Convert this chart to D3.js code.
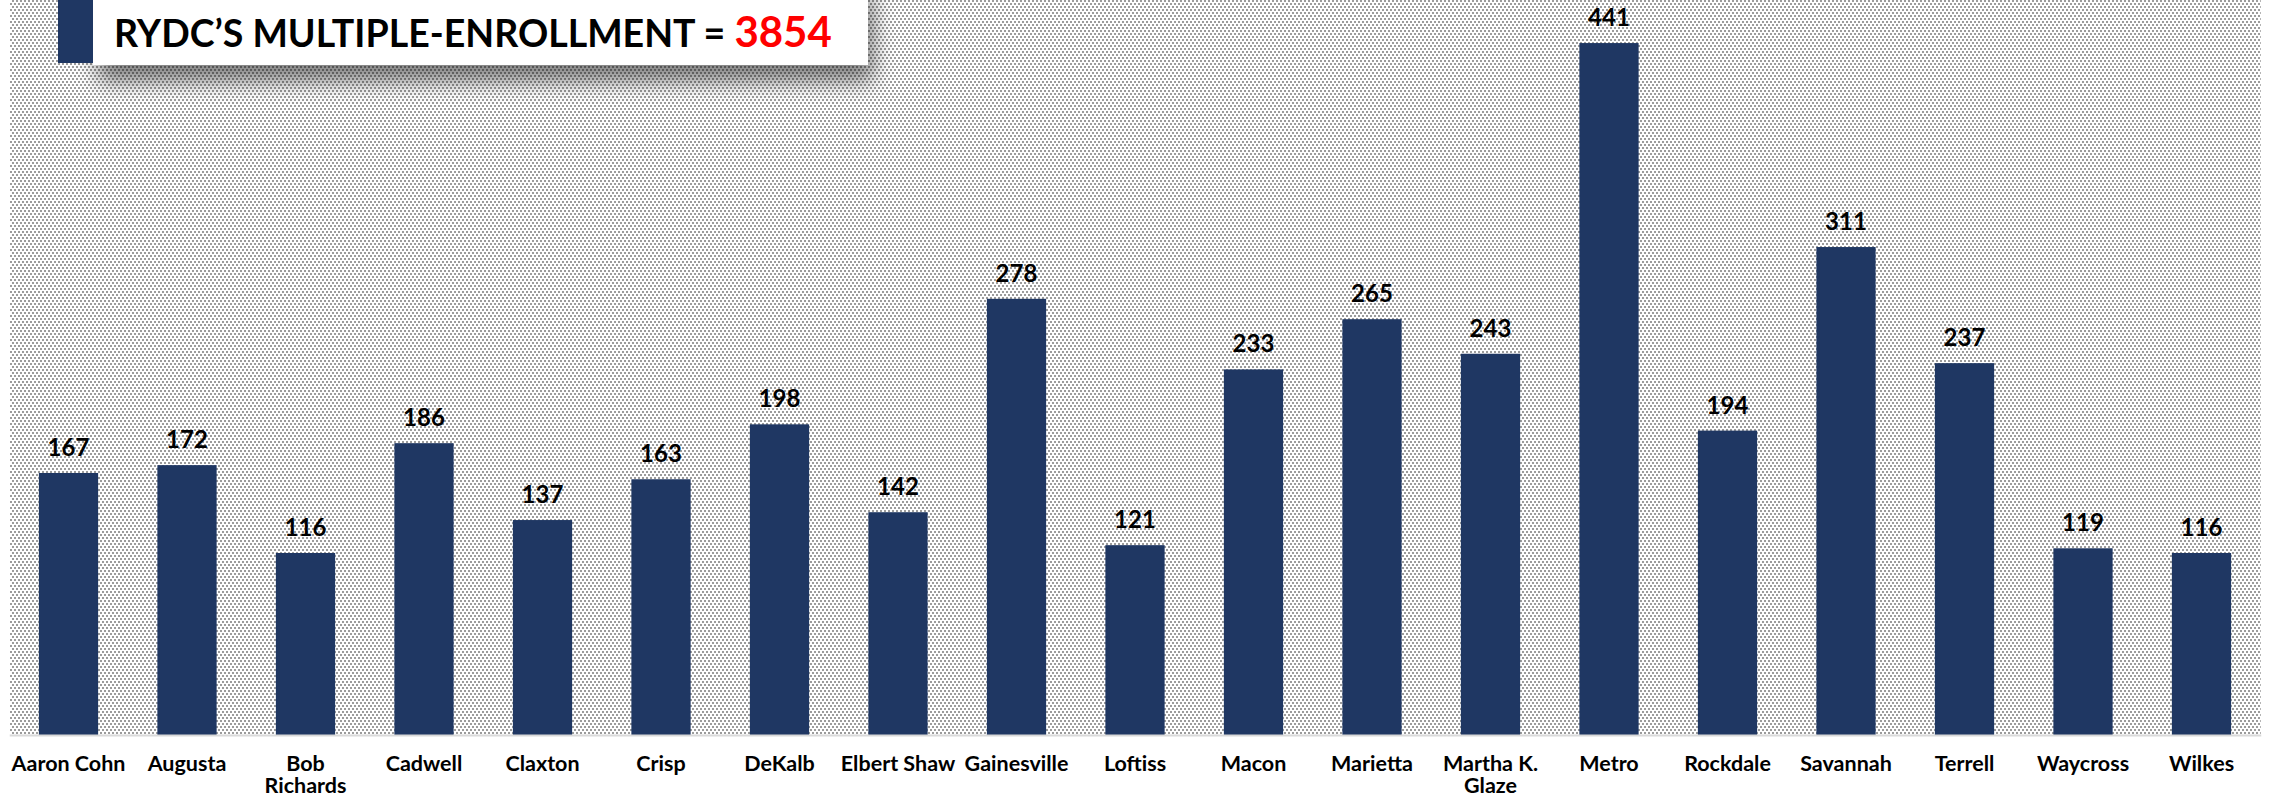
<!DOCTYPE html>
<html>
<head>
<meta charset="utf-8">
<script src="https://cdn.jsdelivr.net/npm/d3@7"></script>
<style>
  html, body { margin: 0; padding: 0; background: #ffffff; }
  svg { display: block; }
</style>
</head>
<body>
<svg id="chart" width="2269" height="799"></svg>
<script>
// ---- data ----
const categories = ["Aaron Cohn", "Augusta", "Bob Richards", "Cadwell", "Claxton", "Crisp", "DeKalb",
  "Elbert Shaw", "Gainesville", "Loftiss", "Macon", "Marietta", "Martha K. Glaze", "Metro",
  "Rockdale", "Savannah", "Terrell", "Waycross", "Wilkes"];
const values = [167, 172, 116, 186, 137, 163, 198, 142, 278, 121, 233, 265, 243, 441, 194, 311, 237, 119, 116];
const tickLabels = [["Aaron Cohn"], ["Augusta"], ["Bob", "Richards"], ["Cadwell"], ["Claxton"], ["Crisp"], ["DeKalb"],
  ["Elbert Shaw"], ["Gainesville"], ["Loftiss"], ["Macon"], ["Marietta"], ["Martha K.", "Glaze"], ["Metro"],
  ["Rockdale"], ["Savannah"], ["Terrell"], ["Waycross"], ["Wilkes"]];
const titleText = "RYDC\u2019S MULTIPLE-ENROLLMENT = ";
const titleTotal = "3854";
const yDomain = [0, 500];

// ---- layout ----
const W = 2269, H = 799;
const plotLeft = 9.25, plotRight = 2260.75, baseY = 735;
const svg = d3.select("#chart");
const defs = svg.append("defs");

const pat = defs.append("pattern").attr("id", "dots")
  .attr("patternUnits", "userSpaceOnUse").attr("width", 4).attr("height", 6);
pat.append("rect").attr("width", 4).attr("height", 6).attr("fill", "#ffffff");
pat.append("rect").attr("x", 0).attr("y", 0).attr("width", 2).attr("height", 2).attr("fill", "#9c9c9c");
pat.append("rect").attr("x", 2).attr("y", 3).attr("width", 2).attr("height", 2).attr("fill", "#9c9c9c");

const shadow = defs.append("filter").attr("id", "shadow")
  .attr("x", "-10%").attr("y", "-50%").attr("width", "125%").attr("height", "250%");
shadow.append("feDropShadow").attr("dx", 5).attr("dy", 16).attr("stdDeviation", 11)
  .attr("flood-color", "#000").attr("flood-opacity", 0.5);

const x = d3.scaleBand().domain(categories).range([plotLeft, plotRight])
  .paddingInner(0.5).paddingOuter(0.25);
const y = d3.scaleLinear().domain(yDomain).range([baseY, baseY - 784.5]);

// plot background
svg.append("rect").attr("x", 10).attr("y", 0).attr("width", plotRight - 10).attr("height", baseY)
  .attr("fill", "url(#dots)");

// bars
svg.append("g").selectAll("rect").data(values).join("rect")
  .attr("x", (d, i) => x(categories[i]))
  .attr("y", d => y(d))
  .attr("width", x.bandwidth())
  .attr("height", d => baseY - y(d))
  .attr("fill", "#1f3763");

// value labels
svg.append("g").selectAll("text").data(values).join("text")
  .attr("x", (d, i) => x(categories[i]) + x.bandwidth() / 2)
  .attr("y", d => y(d) - 17)
  .attr("text-anchor", "middle")
  .attr("font-family", "Lato, sans-serif")
  .attr("font-weight", "bold")
  .attr("font-size", 24)
  .attr("fill", "#000")
  .text(d => d);

// axis
const axis = svg.append("g").attr("transform", `translate(0,${baseY})`)
  .call(d3.axisBottom(x).tickSize(0).tickSizeOuter(0));
axis.select(".domain").attr("stroke", "#d9d9d9").attr("stroke-width", 2);
axis.selectAll(".tick text").each(function(d) {
  const t = d3.select(this);
  const lines = tickLabels[categories.indexOf(d)];
  t.text(null).attr("y", null).attr("dy", null)
    .attr("font-family", "Lato, sans-serif").attr("font-weight", "bold")
    .attr("font-size", 21.5).attr("fill", "#000");
  lines.forEach((ln, i) => {
    t.append("tspan").attr("x", 0).attr("y", 36 + i * 22).text(ln);
  });
});

// title box
const tg = svg.append("g");
tg.append("rect").attr("x", 93).attr("y", -20).attr("width", 775).attr("height", 85)
  .attr("fill", "#ffffff").attr("filter", "url(#shadow)");
tg.append("rect").attr("x", 58).attr("y", 0).attr("width", 35).attr("height", 63)
  .attr("fill", "#1f3763");
const tt = tg.append("text").attr("x", 114).attr("y", 47)
  .attr("font-family", "Lato, sans-serif");
tt.append("tspan").attr("font-weight", "bold").attr("font-size", 37.5).attr("fill", "#000").text(titleText);
tt.append("tspan").attr("font-weight", "bold").attr("font-size", 42).attr("fill", "#ff0000").text(titleTotal);
</script>
</body>
</html>
